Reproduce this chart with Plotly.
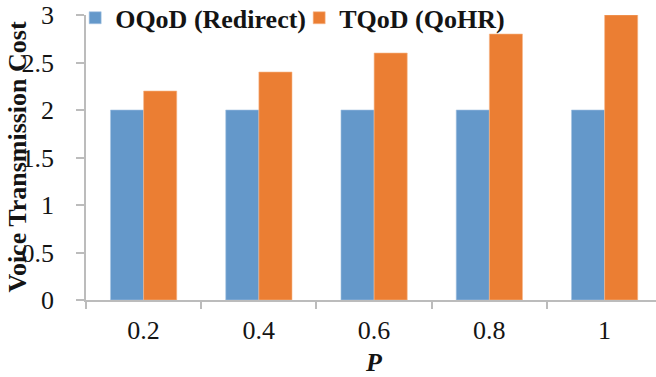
import plotly.graph_objects as go

categories = ["0.2", "0.4", "0.6", "0.8", "1"]
oqod_redirect = [2, 2, 2, 2, 2]
tqod_qohr = [2.2, 2.4, 2.6, 2.8, 3.0]
y_ticks = [0, 0.5, 1, 1.5, 2, 2.5, 3]
y_tick_labels = ["0", "0.5", "1", "1.5", "2", "2.5", "3"]
y_title = "Voice Transmission Cost"
x_title = "P"

serif = "Liberation Serif"
txt = "#141414"
axc = "#bcbcbc"

fig = go.Figure()
fig.add_trace(go.Bar(x=categories, y=oqod_redirect, name="OQoD (Redirect)", legend="legend",
                     marker=dict(color="#6498CA", line=dict(color="#a6c4e2", width=0.6))))
fig.add_trace(go.Bar(x=categories, y=tqod_qohr, name="TQoD (QoHR)", legend="legend2",
                     marker=dict(color="#EB7E33", line=dict(color="#f6b88c", width=0.6))))

leg_common = dict(orientation="h", y=0.99, xanchor="left", yanchor="middle",
                  font=dict(family=serif, size=26, color=txt, weight="bold"),
                  bgcolor="rgba(0,0,0,0)", itemwidth=30)

fig.update_layout(
    width=656, height=377,
    margin=dict(l=86, r=0, t=15, b=77, autoexpand=False),
    plot_bgcolor="white", paper_bgcolor="white",
    barmode="group", bargap=0.425, bargroupgap=0,
    font=dict(family=serif, color=txt, size=26),
    showlegend=True,
    legend=dict(x=-0.019, **leg_common),
    legend2=dict(x=0.374, **leg_common),
    xaxis=dict(
        type="category",
        range=[-0.5, 4.446],
        showline=True, linecolor=axc, linewidth=1.5,
        ticks="outside", tickson="boundaries", ticklen=7, tickcolor=axc, tickwidth=1.5,
        tickfont=dict(family=serif, size=26, color=txt),
        ticklabelstandoff=6,
        showgrid=False, zeroline=False,
    ),
    yaxis=dict(
        range=[0, 3],
        tickvals=y_ticks, ticktext=y_tick_labels,
        showline=True, linecolor=axc, linewidth=1.5,
        ticks="outside", ticklen=8, tickcolor=axc, tickwidth=1.5,
        tickfont=dict(family=serif, size=26, color=txt),
        ticklabelstandoff=17,
        showgrid=False, zeroline=False,
    ),
)

fig.add_annotation(text="<b>" + y_title + "</b>", textangle=-90,
                   xref="paper", yref="paper", x=(17 - 86) / 570, y=0.5,
                   xanchor="center", yanchor="middle", showarrow=False,
                   font=dict(family=serif, size=26, color=txt))
fig.add_annotation(text="<b><i>" + x_title + "</i></b>",
                   xref="paper", yref="paper", x=(374 - 86) / 570, y=(300 - 362) / 285,
                   xanchor="center", yanchor="middle", showarrow=False,
                   font=dict(family=serif, size=26, color=txt))

fig.write_html("out.html", config={"displayModeBar": False},
               post_script="document.body.style.margin='0';")
